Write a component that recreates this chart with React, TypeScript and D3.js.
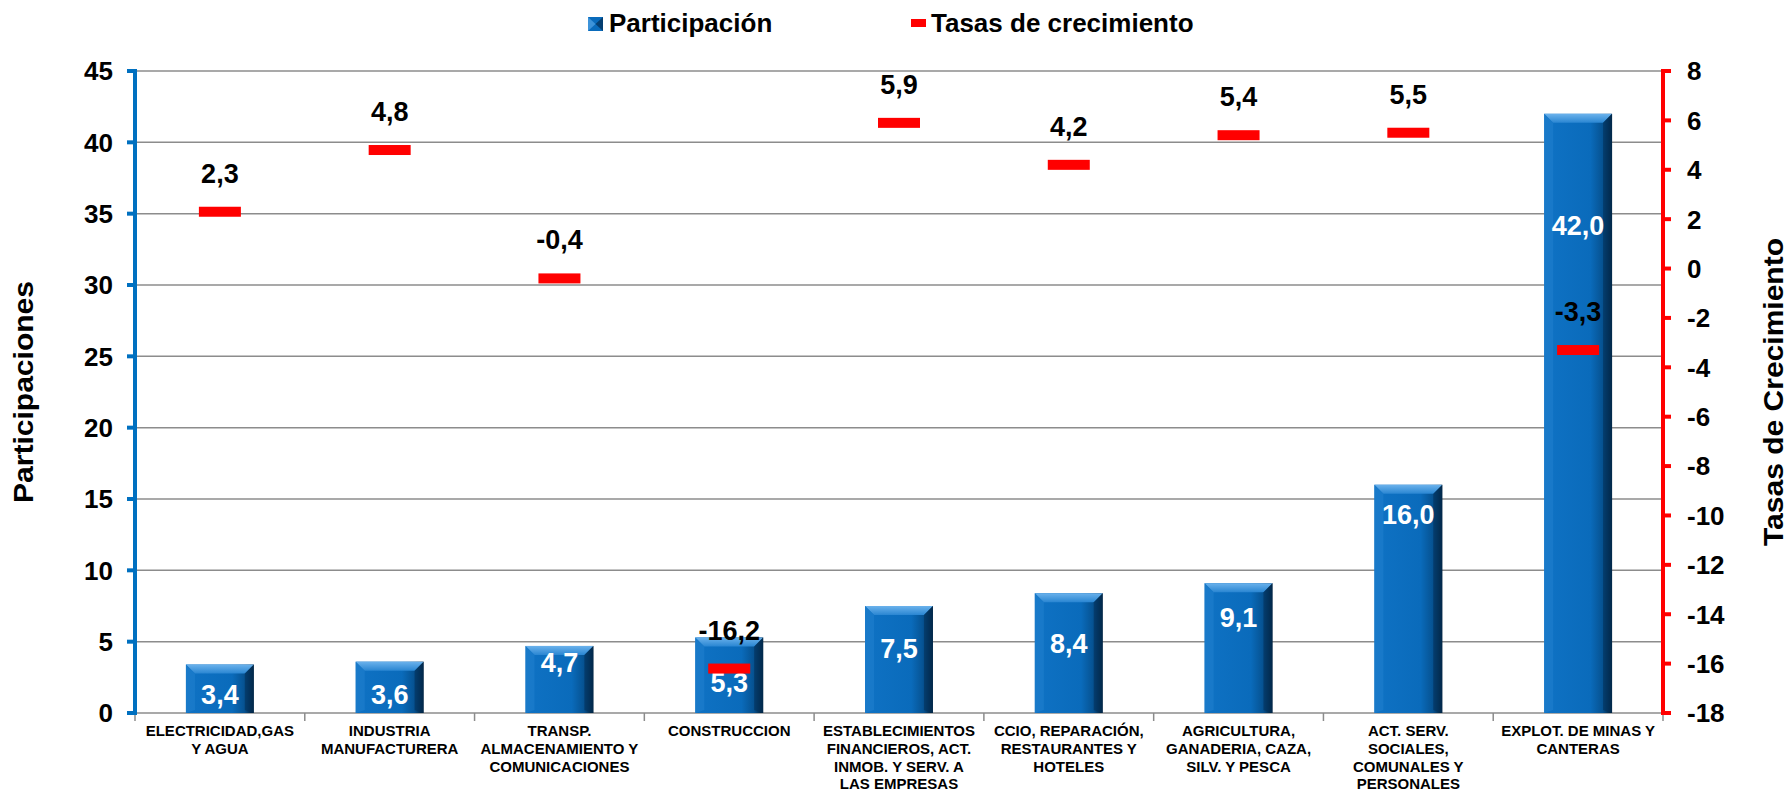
import React from "react";
import * as d3 from "d3";

// Data
const categories = [
  ["ELECTRICIDAD,GAS", "Y AGUA"],
  ["INDUSTRIA", "MANUFACTURERA"],
  ["TRANSP.", "ALMACENAMIENTO Y", "COMUNICACIONES"],
  ["CONSTRUCCION"],
  ["ESTABLECIMIENTOS", "FINANCIEROS, ACT.", "INMOB. Y SERV. A", "LAS EMPRESAS"],
  ["CCIO, REPARACIÓN,", "RESTAURANTES Y", "HOTELES"],
  ["AGRICULTURA,", "GANADERIA, CAZA,", "SILV. Y PESCA"],
  ["ACT. SERV.", "SOCIALES,", "COMUNALES Y", "PERSONALES"],
  ["EXPLOT. DE MINAS Y", "CANTERAS"],
];
const participacion = [3.4, 3.6, 4.7, 5.3, 7.5, 8.4, 9.1, 16.0, 42.0];
const tasas = [2.3, 4.8, -0.4, -16.2, 5.9, 4.2, 5.4, 5.5, -3.3];
const leftTicks = [0, 5, 10, 15, 20, 25, 30, 35, 40, 45];
const rightTicks = [8, 6, 4, 2, 0, -2, -4, -6, -8, -10, -12, -14, -16, -18];

// Dimensions
const W = 1789;
const H = 794;
const plot = { left: 135, right: 1663, top: 71, bottom: 713 };
const FONT = "'Liberation Sans', Arial, sans-serif";
const BLUE = "#0070C0";
const RED = "#FF0000";

const fmt = (v: number) => v.toFixed(1).replace(".", ",");

// where the white value label sits inside each bar (in left-axis units)
const labelAt = [1.33, 1.33, 3.57, 2.17, 4.56, 4.9, 6.73, 13.9, 34.2];

export default function App() {
  const x = d3
    .scaleBand<number>()
    .domain(d3.range(categories.length))
    .range([plot.left, plot.right])
    .paddingInner(0)
    .paddingOuter(0);
  const y = d3.scaleLinear().domain([0, 45]).range([plot.bottom, plot.top]);
  const y2 = d3.scaleLinear().domain([-18, 8]).range([plot.bottom, plot.top]);

  const bw = x.bandwidth() * 0.4;
  const bev = 9;

  return (
    <svg
      width={W}
      height={H}
      style={{ position: "absolute", left: 0, top: 0, background: "#fff" }}
      fontFamily={FONT}
    >
      <defs>
        <linearGradient id="barFace" x1="0" x2="1" y1="0" y2="0">
          <stop offset="0" stopColor="#0f72c4" />
          <stop offset="0.68" stopColor="#0a6bbb" />
          <stop offset="0.86" stopColor="#065291" />
          <stop offset="1" stopColor="#011a30" />
        </linearGradient>
        <linearGradient id="barTop" x1="0" x2="0" y1="0" y2="1">
          <stop offset="0" stopColor="#6bb2ec" />
          <stop offset="1" stopColor="#2a86d2" />
        </linearGradient>
      </defs>

      {/* legend */}
      <g>
        <rect x={588} y={17} width={15} height={14} fill="#0a6bbb" />
        <polygon points="588,17 595.5,24 588,31" fill="#3d93d9" />
        <polygon points="603,17 595.5,24 603,31" fill="#053e70" />
        <text x={609} y={32} fontSize={26} fontWeight="bold">
          Participación
        </text>
        <rect x={911} y={19} width={15} height={8} fill={RED} />
        <text x={931} y={32} fontSize={26} fontWeight="bold">
          Tasas de crecimiento
        </text>
      </g>

      {/* gridlines */}
      {leftTicks.map((t) => (
        <line
          key={"g" + t}
          x1={plot.left}
          x2={plot.right}
          y1={y(t)}
          y2={y(t)}
          stroke="#8c8c8c"
          strokeWidth={1.5}
        />
      ))}

      {/* category ticks */}
      {d3.range(categories.length + 1).map((i) => {
        const xx = plot.left + i * x.step();
        return (
          <line
            key={"c" + i}
            x1={xx}
            x2={xx}
            y1={plot.bottom}
            y2={plot.bottom + 8}
            stroke="#8c8c8c"
            strokeWidth={1.5}
          />
        );
      })}

      {/* bars */}
      {participacion.map((v, i) => {
        const cx = x(i)! + x.bandwidth() / 2;
        const x0 = cx - bw / 2;
        const x1 = cx + bw / 2;
        const top = y(v);
        const bot = y(0);
        return (
          <g key={"b" + i}>
            <rect x={x0} y={top} width={bw} height={bot - top} fill="url(#barFace)" />
            <polygon
              points={`${x0},${top} ${x1},${top} ${x1 - bev},${top + bev} ${x0 + bev},${top + bev}`}
              fill="url(#barTop)"
            />
            <polygon
              points={`${x0},${top} ${x0 + bev},${top + bev} ${x0 + bev},${bot - 3} ${x0},${bot}`}
              fill="#1b7ccb"
              opacity={0.8}
            />
            <polygon
              points={`${x1},${top} ${x1 - bev},${top + bev} ${x1 - bev},${bot - 3} ${x1},${bot}`}
              fill="#03325c"
              opacity={0.6}
            />
            <text
              x={cx}
              y={y(labelAt[i])}
              dy="0.36em"
              textAnchor="middle"
              fill="#fff"
              fontSize={27}
              fontWeight="bold"
            >
              {fmt(v)}
            </text>
          </g>
        );
      })}

      {/* growth rate dashes */}
      {tasas.map((v, i) => {
        const cx = x(i)! + x.bandwidth() / 2;
        return (
          <g key={"t" + i}>
            <rect x={cx - 21} y={y2(v) - 5} width={42} height={10} fill={RED} />
            <text
              x={cx}
              y={y2(v) - 29}
              textAnchor="middle"
              fill="#000"
              fontSize={27}
              fontWeight="bold"
            >
              {fmt(v)}
            </text>
          </g>
        );
      })}

      {/* left axis */}
      <line x1={plot.left} x2={plot.left} y1={plot.top - 2} y2={plot.bottom + 2} stroke={BLUE} strokeWidth={4} />
      {leftTicks.map((t) => (
        <g key={"l" + t}>
          <line x1={plot.left - 8} x2={plot.left} y1={y(t)} y2={y(t)} stroke={BLUE} strokeWidth={4} />
          <text
            x={113}
            y={y(t)}
            dy="0.36em"
            textAnchor="end"
            fontSize={26}
            fontWeight="bold"
          >
            {t}
          </text>
        </g>
      ))}
      <text
        transform={`translate(33, ${(plot.top + plot.bottom) / 2}) rotate(-90)`}
        textAnchor="middle"
        fontSize={27}
        fontWeight="bold"
        textLength={222}
        lengthAdjust="spacingAndGlyphs"
      >
        Participaciones
      </text>

      {/* right axis */}
      <line x1={plot.right} x2={plot.right} y1={plot.top - 2} y2={plot.bottom + 2} stroke={RED} strokeWidth={4} />
      {rightTicks.map((t) => (
        <g key={"r" + t}>
          <line x1={plot.right} x2={plot.right + 8} y1={y2(t)} y2={y2(t)} stroke={RED} strokeWidth={4} />
          <text x={1687} y={y2(t)} dy="0.36em" fontSize={26} fontWeight="bold">
            {t}
          </text>
        </g>
      ))}
      <text
        transform={`translate(1783, ${(plot.top + plot.bottom) / 2}) rotate(-90)`}
        textAnchor="middle"
        fontSize={27}
        fontWeight="bold"
        textLength={308}
        lengthAdjust="spacingAndGlyphs"
      >
        Tasas de Crecimiento
      </text>

      {/* category labels */}
      {categories.map((lines, i) => {
        const cx = x(i)! + x.bandwidth() / 2;
        return (
          <text key={"n" + i} textAnchor="middle" fontSize={15} fontWeight="bold">
            {lines.map((l, j) => (
              <tspan key={j} x={cx} y={736 + j * 17.8}>
                {l}
              </tspan>
            ))}
          </text>
        );
      })}
    </svg>
  );
}
